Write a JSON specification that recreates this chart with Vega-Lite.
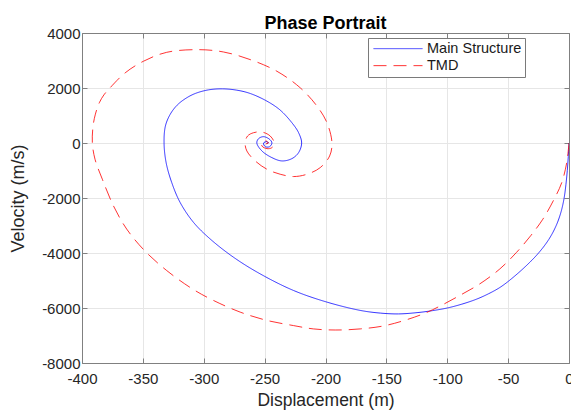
{
  "$schema": "https://vega.github.io/schema/vega-lite/v6.json",
  "width": 487,
  "height": 330,
  "autosize": {"type": "none"},
  "padding": {"left": 82, "top": 33, "right": 2, "bottom": 49},
  "background": "white",
  "config": {
    "font": "Liberation Sans",
    "view": {"stroke": null},
    "legend": {
      "orient": "none",
      "legendX": 286,
      "legendY": 5,
      "strokeColor": "#7a7a7a",
      "fillColor": "white",
      "padding": 3,
      "symbolOffset": 2,
      "labelOffset": 4,
      "symbolType": "stroke",
      "symbolSize": 2401,
      "symbolStrokeWidth": 1,
      "symbolOpacity": 0.8,
      "labelFontSize": 14.5,
      "labelColor": "#1a1a1a",
      "clipHeight": 15.3,
      "rowPadding": 0,
      "labelLimit": 300
    }
  },
  "title": {
    "text": "Phase Portrait",
    "fontSize": 18,
    "fontWeight": "bold",
    "color": "#000000",
    "anchor": "middle",
    "frame": "group",
    "offset": 5,
    "dy": 26,
    "baseline": "alphabetic"
  },
  "data": {
    "values": [
      {"s": "Main Structure", "i": 1, "x": 0, "y": 0},
      {"s": "Main Structure", "i": 2, "x": -0.6, "y": -500},
      {"s": "Main Structure", "i": 3, "x": -1.4, "y": -1000},
      {"s": "Main Structure", "i": 4, "x": -2.5, "y": -1500},
      {"s": "Main Structure", "i": 5, "x": -4, "y": -2000},
      {"s": "Main Structure", "i": 6, "x": -6.5, "y": -2500},
      {"s": "Main Structure", "i": 7, "x": -10.5, "y": -3000},
      {"s": "Main Structure", "i": 8, "x": -16.5, "y": -3500},
      {"s": "Main Structure", "i": 9, "x": -25, "y": -4000},
      {"s": "Main Structure", "i": 10, "x": -36, "y": -4500},
      {"s": "Main Structure", "i": 11, "x": -49, "y": -5000},
      {"s": "Main Structure", "i": 12, "x": -57, "y": -5260},
      {"s": "Main Structure", "i": 13, "x": -66, "y": -5480},
      {"s": "Main Structure", "i": 14, "x": -76, "y": -5680},
      {"s": "Main Structure", "i": 15, "x": -88, "y": -5860},
      {"s": "Main Structure", "i": 16, "x": -100, "y": -6000},
      {"s": "Main Structure", "i": 17, "x": -112, "y": -6095},
      {"s": "Main Structure", "i": 18, "x": -124, "y": -6165},
      {"s": "Main Structure", "i": 19, "x": -140, "y": -6215},
      {"s": "Main Structure", "i": 20, "x": -155, "y": -6185},
      {"s": "Main Structure", "i": 21, "x": -171.4, "y": -6088},
      {"s": "Main Structure", "i": 22, "x": -198.8, "y": -5786},
      {"s": "Main Structure", "i": 23, "x": -226.2, "y": -5364},
      {"s": "Main Structure", "i": 24, "x": -253.6, "y": -4760},
      {"s": "Main Structure", "i": 25, "x": -275.5, "y": -4156},
      {"s": "Main Structure", "i": 26, "x": -294.7, "y": -3491},
      {"s": "Main Structure", "i": 27, "x": -308.4, "y": -2887},
      {"s": "Main Structure", "i": 28, "x": -319.4, "y": -2162},
      {"s": "Main Structure", "i": 29, "x": -326.3, "y": -1438},
      {"s": "Main Structure", "i": 30, "x": -330.9, "y": -713},
      {"s": "Main Structure", "i": 31, "x": -332.6, "y": 0},
      {"s": "Main Structure", "i": 32, "x": -331.5, "y": 616},
      {"s": "Main Structure", "i": 33, "x": -327.6, "y": 1039},
      {"s": "Main Structure", "i": 34, "x": -322.1, "y": 1365},
      {"s": "Main Structure", "i": 35, "x": -315.3, "y": 1607},
      {"s": "Main Structure", "i": 36, "x": -307, "y": 1800},
      {"s": "Main Structure", "i": 37, "x": -296, "y": 1933},
      {"s": "Main Structure", "i": 38, "x": -284.6, "y": 1969},
      {"s": "Main Structure", "i": 39, "x": -272.8, "y": 1921},
      {"s": "Main Structure", "i": 40, "x": -261.8, "y": 1800},
      {"s": "Main Structure", "i": 41, "x": -248.1, "y": 1522},
      {"s": "Main Structure", "i": 42, "x": -237.2, "y": 1196},
      {"s": "Main Structure", "i": 43, "x": -227.6, "y": 737},
      {"s": "Main Structure", "i": 44, "x": -222.1, "y": 374},
      {"s": "Main Structure", "i": 45, "x": -219.6, "y": 0},
      {"s": "Main Structure", "i": 46, "x": -222.1, "y": -350},
      {"s": "Main Structure", "i": 47, "x": -227.6, "y": -568},
      {"s": "Main Structure", "i": 48, "x": -235.8, "y": -652},
      {"s": "Main Structure", "i": 49, "x": -244, "y": -532},
      {"s": "Main Structure", "i": 50, "x": -252.2, "y": -290},
      {"s": "Main Structure", "i": 51, "x": -256.4, "y": 0},
      {"s": "Main Structure", "i": 52, "x": -255, "y": 157},
      {"s": "Main Structure", "i": 53, "x": -250.9, "y": 230},
      {"s": "Main Structure", "i": 54, "x": -245.9, "y": 133},
      {"s": "Main Structure", "i": 55, "x": -244, "y": 0},
      {"s": "Main Structure", "i": 56, "x": -245.9, "y": -133},
      {"s": "Main Structure", "i": 57, "x": -249.5, "y": -133},
      {"s": "Main Structure", "i": 58, "x": -250.9, "y": 0},
      {"s": "Main Structure", "i": 59, "x": -248, "y": 50},
      {"s": "Main Structure", "i": 60, "x": -247, "y": 0},
      {"s": "Main Structure", "i": 61, "x": -248.3, "y": -20},
      {"s": "TMD", "i": 1, "x": 0, "y": 0},
      {"s": "TMD", "i": 2, "x": -1.9, "y": -723},
      {"s": "TMD", "i": 3, "x": -6, "y": -1446},
      {"s": "TMD", "i": 4, "x": -12.3, "y": -2049},
      {"s": "TMD", "i": 5, "x": -21.5, "y": -2772},
      {"s": "TMD", "i": 6, "x": -31.5, "y": -3374},
      {"s": "TMD", "i": 7, "x": -43.1, "y": -3977},
      {"s": "TMD", "i": 8, "x": -56.8, "y": -4579},
      {"s": "TMD", "i": 9, "x": -73.2, "y": -5121},
      {"s": "TMD", "i": 10, "x": -89.7, "y": -5543},
      {"s": "TMD", "i": 11, "x": -106.2, "y": -5935},
      {"s": "TMD", "i": 12, "x": -121.2, "y": -6240},
      {"s": "TMD", "i": 13, "x": -150, "y": -6630},
      {"s": "TMD", "i": 14, "x": -171.4, "y": -6760},
      {"s": "TMD", "i": 15, "x": -192, "y": -6800},
      {"s": "TMD", "i": 16, "x": -210, "y": -6760},
      {"s": "TMD", "i": 17, "x": -226.2, "y": -6640},
      {"s": "TMD", "i": 18, "x": -248.1, "y": -6451},
      {"s": "TMD", "i": 19, "x": -270.1, "y": -6149},
      {"s": "TMD", "i": 20, "x": -292, "y": -5726},
      {"s": "TMD", "i": 21, "x": -309.4, "y": -5303},
      {"s": "TMD", "i": 22, "x": -330.4, "y": -4639},
      {"s": "TMD", "i": 23, "x": -348.6, "y": -3914},
      {"s": "TMD", "i": 24, "x": -363.3, "y": -3129},
      {"s": "TMD", "i": 25, "x": -374.2, "y": -2283},
      {"s": "TMD", "i": 26, "x": -383.3, "y": -1317},
      {"s": "TMD", "i": 27, "x": -389.3, "y": -592},
      {"s": "TMD", "i": 28, "x": -391.5, "y": 0},
      {"s": "TMD", "i": 29, "x": -390.9, "y": 616},
      {"s": "TMD", "i": 30, "x": -389, "y": 1050},
      {"s": "TMD", "i": 31, "x": -385.8, "y": 1462},
      {"s": "TMD", "i": 32, "x": -382, "y": 1750},
      {"s": "TMD", "i": 33, "x": -377, "y": 2005},
      {"s": "TMD", "i": 34, "x": -364.6, "y": 2549},
      {"s": "TMD", "i": 35, "x": -349.6, "y": 2972},
      {"s": "TMD", "i": 36, "x": -330.4, "y": 3298},
      {"s": "TMD", "i": 37, "x": -304.3, "y": 3394},
      {"s": "TMD", "i": 38, "x": -283.8, "y": 3310},
      {"s": "TMD", "i": 39, "x": -261.8, "y": 3032},
      {"s": "TMD", "i": 40, "x": -239.9, "y": 2609},
      {"s": "TMD", "i": 41, "x": -220.7, "y": 2005},
      {"s": "TMD", "i": 42, "x": -207, "y": 1341},
      {"s": "TMD", "i": 43, "x": -198.8, "y": 737},
      {"s": "TMD", "i": 44, "x": -194.7, "y": 0},
      {"s": "TMD", "i": 45, "x": -196.6, "y": -471},
      {"s": "TMD", "i": 46, "x": -204.3, "y": -894},
      {"s": "TMD", "i": 47, "x": -215.2, "y": -1136},
      {"s": "TMD", "i": 48, "x": -226.2, "y": -1220},
      {"s": "TMD", "i": 49, "x": -237.2, "y": -1136},
      {"s": "TMD", "i": 50, "x": -248.1, "y": -954},
      {"s": "TMD", "i": 51, "x": -257.7, "y": -652},
      {"s": "TMD", "i": 52, "x": -264.6, "y": -290},
      {"s": "TMD", "i": 53, "x": -266, "y": 0},
      {"s": "TMD", "i": 54, "x": -264, "y": 254},
      {"s": "TMD", "i": 55, "x": -259.1, "y": 374},
      {"s": "TMD", "i": 56, "x": -252.3, "y": 399},
      {"s": "TMD", "i": 57, "x": -245.4, "y": 254},
      {"s": "TMD", "i": 58, "x": -242.1, "y": 0},
      {"s": "TMD", "i": 59, "x": -244, "y": -169},
      {"s": "TMD", "i": 60, "x": -248.1, "y": -205},
      {"s": "TMD", "i": 61, "x": -252.2, "y": -109},
      {"s": "TMD", "i": 62, "x": -252, "y": 50},
      {"s": "TMD", "i": 63, "x": -249, "y": 80},
      {"s": "TMD", "i": 64, "x": -247, "y": 0},
      {"s": "TMD", "i": 65, "x": -249, "y": -30}
    ]
  },
  "layer": [
    {
      "mark": {"type": "line", "strokeWidth": 1, "opacity": 0.8, "interpolate": "catmull-rom", "clip": true},
      "encoding": {
        "x": {
          "field": "x",
          "type": "quantitative",
          "scale": {"domain": [-400, 0], "nice": false, "zero": false},
          "axis": {
            "orient": "bottom",
            "values": [-400, -350, -300, -250, -200, -150, -100, -50, 0],
            "labelExpr": "toString(datum.value)",
            "grid": true,
            "gridColor": "#e6e6e6",
            "domainColor": "#808080",
            "tickColor": "#808080",
            "tickSize": -5,
            "labelPadding": 13,
            "labelFontSize": 15,
            "labelColor": "#262626",
            "labelFlush": false,
            "labelOverlap": false,
            "title": "Displacement (m)",
            "titleFontSize": 17.5,
            "titleFontWeight": "normal",
            "titleColor": "#262626",
            "titleY": 37,
            "titleBaseline": "middle"
          }
        },
        "y": {
          "field": "y",
          "type": "quantitative",
          "scale": {"domain": [-8000, 4000], "nice": false, "zero": false},
          "axis": {
            "orient": "left",
            "values": [-8000, -6000, -4000, -2000, 0, 2000, 4000],
            "labelExpr": "toString(datum.value)",
            "grid": true,
            "gridColor": "#e6e6e6",
            "domainColor": "#808080",
            "tickColor": "#808080",
            "tickSize": -5,
            "labelPadding": 7,
            "labelFontSize": 15,
            "labelColor": "#262626",
            "labelFlush": false,
            "labelOverlap": false,
            "title": "Velocity (m/s)",
            "titleFontSize": 18,
            "titleFontWeight": "normal",
            "titleColor": "#262626",
            "titleX": -64,
            "titleY": 165,
            "titleAngle": -90,
            "titleBaseline": "middle"
          }
        },
        "color": {
          "field": "s",
          "type": "nominal",
          "scale": {"domain": ["Main Structure", "TMD"], "range": ["#0000ff", "#ff0000"]},
          "legend": {"title": null}
        },
        "strokeDash": {
          "field": "s",
          "type": "nominal",
          "scale": {"domain": ["Main Structure", "TMD"], "range": [[1, 0], [13, 7]]},
          "legend": {"title": null}
        },
        "order": {"field": "i", "type": "quantitative"}
      }
    },
    {
      "mark": {"type": "line", "opacity": 0},
      "encoding": {
        "x": {
          "field": "x",
          "type": "quantitative",
          "axis": {
            "orient": "top",
            "values": [-400, -350, -300, -250, -200, -150, -100, -50, 0],
            "labels": false,
            "grid": false,
            "title": null,
            "domainColor": "#808080",
            "tickColor": "#808080",
            "tickSize": -5,
            "minExtent": 0,
            "maxExtent": 0
          }
        },
        "y": {
          "field": "y",
          "type": "quantitative",
          "axis": {
            "orient": "right",
            "values": [-8000, -6000, -4000, -2000, 0, 2000, 4000],
            "labels": false,
            "grid": false,
            "title": null,
            "domainColor": "#808080",
            "tickColor": "#808080",
            "tickSize": -5,
            "minExtent": 0,
            "maxExtent": 0
          }
        },
        "detail": {"field": "s"},
        "order": {"field": "i", "type": "quantitative"}
      }
    }
  ],
  "resolve": {"axis": {"x": "independent", "y": "independent"}}
}
